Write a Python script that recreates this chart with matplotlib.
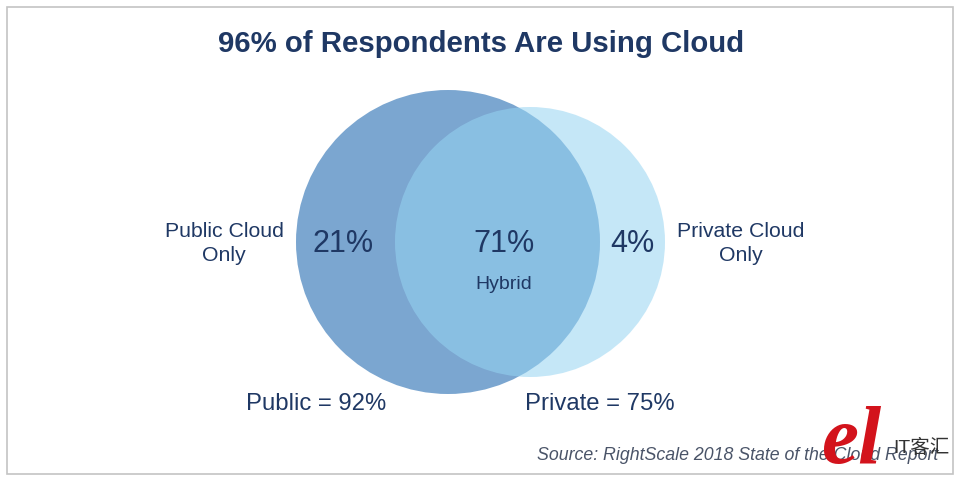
import matplotlib
matplotlib.use("Agg")
import matplotlib.pyplot as plt
from matplotlib.patches import Circle, Rectangle

plt.rcParams["font.family"] = ["Liberation Sans", "Noto Sans CJK SC", "DejaVu Sans"]

title = "96% of Respondents Are Using Cloud"
segment_labels = ["21%", "71%", "4%"]
totals = ["Public = 92%", "Private = 75%"]
source = "Source: RightScale 2018 State of the Cloud Report"

NAVY = "#1f3864"

fig = plt.figure(figsize=(9.6, 4.8), dpi=100)
ax = fig.add_axes([0, 0, 1, 1])
ax.set_xlim(0, 960)
ax.set_ylim(480, 0)
ax.axis("off")

# frame
ax.add_patch(Rectangle((7, 7), 946, 467, fill=False, ec="#c4c4c4", lw=1.2))

# venn circles
ax.add_patch(Circle((448, 242), 152, fc="#7ba6d0", ec="none", zorder=2))
ax.add_patch(Circle((530, 242), 135, fc="#96d4f2", ec="none", alpha=0.55, zorder=3))

ax.text(481.5, 43.5, title, fontsize=21.2, fontweight="bold", color=NAVY, ha="center", va="center")

ax.text(343, 244, segment_labels[0], fontsize=22, color=NAVY, ha="center", va="center", zorder=5)
ax.text(504, 244, segment_labels[1], fontsize=22, color=NAVY, ha="center", va="center", zorder=5)
ax.text(632, 244, segment_labels[2], fontsize=22, color=NAVY, ha="center", va="center", zorder=5)
ax.text(504, 284.5, "Hybrid", fontsize=14, color=NAVY, ha="center", va="center", zorder=5)

ax.text(224, 243.5, "Public Cloud\nOnly", fontsize=15.3, color=NAVY, ha="center", va="center", linespacing=1.3)
ax.text(740.5, 243.5, "Private Cloud\nOnly", fontsize=15.3, color=NAVY, ha="center", va="center", linespacing=1.3)

ax.text(316, 404, totals[0], fontsize=17.2, color=NAVY, ha="center", va="center")
ax.text(600, 404, totals[1], fontsize=17.2, color=NAVY, ha="center", va="center")

ax.text(938, 456, source, fontsize=12.8, style="italic", color="#4a5468", ha="right", va="center", zorder=4)

# watermark
ax.text(851, 444, "el", fontsize=60, style="italic", fontweight="bold", family="Liberation Serif",
        color="#d3131c", ha="center", va="center", zorder=6)
ax.text(921, 448, "IT客汇", fontsize=14, color="#333333", ha="center", va="center", zorder=6)

fig.savefig("out.png", dpi=100)
